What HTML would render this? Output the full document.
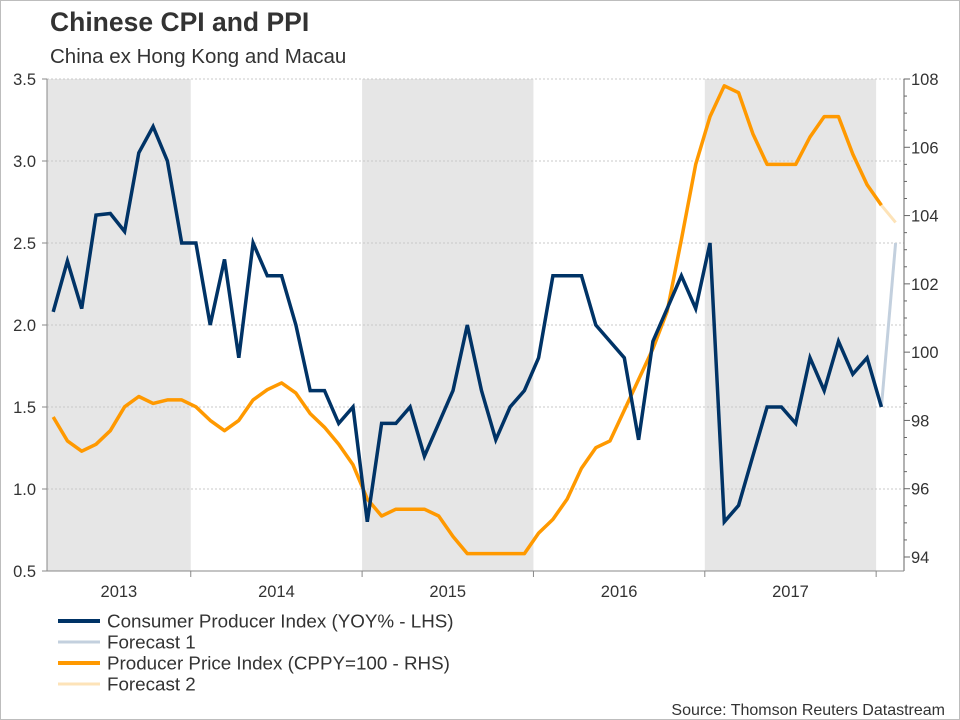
<!DOCTYPE html>
<html><head><meta charset="utf-8"><style>
body{margin:0;background:#fff;}
svg{display:block;font-family:"Liberation Sans",sans-serif;}
</style></head><body>
<svg id="chart" width="960" height="720" viewBox="0 0 960 720" xmlns="http://www.w3.org/2000/svg">
<rect x="0.5" y="0.5" width="959" height="719" fill="#fff" stroke="#bdbdbd"/>
<text x="50" y="31" font-size="26.5" font-weight="bold" fill="#333">Chinese CPI and PPI</text>
<text x="50" y="63" font-size="20.5" fill="#333">China ex Hong Kong and Macau</text>
<g id="bands"></g>
<g id="grid"></g>
<g id="series"></g>
<g id="axes"></g>
<g id="legend">
<line x1="58" y1="621" x2="100" y2="621" stroke="#003366" stroke-width="4"/>
<text x="107" y="627.5" font-size="18.8" fill="#333">Consumer Producer Index (YOY% - LHS)</text>
<line x1="58" y1="642" x2="100" y2="642" stroke="#c3d0de" stroke-width="3"/>
<text x="107" y="648.5" font-size="18.8" fill="#333">Forecast 1</text>
<line x1="58" y1="663" x2="100" y2="663" stroke="#ff9900" stroke-width="4"/>
<text x="107" y="669.5" font-size="18.8" fill="#333">Producer Price Index (CPPY=100 - RHS)</text>
<line x1="58" y1="684" x2="100" y2="684" stroke="#fde3b8" stroke-width="3"/>
<text x="107" y="690.5" font-size="18.8" fill="#333">Forecast 2</text>
</g>
<text x="945" y="715" font-size="16" fill="#333" text-anchor="end">Source: Thomson Reuters Datastream</text>
</svg>
<script>
// data (monthly, starting Mar 2013)
const startMonth = 2; // months after Jan 2013
const cpiValues = [2.08,2.39,2.1,2.67,2.68,2.57,3.05,3.21,3.0,2.5,
 2.5,2.0,2.4,1.8,2.5,2.3,2.3,2.0,1.6,1.6,1.4,1.5,
 0.8,1.4,1.4,1.5,1.2,1.4,1.6,2.0,1.6,1.3,1.5,1.6,
 1.8,2.3,2.3,2.3,2.0,1.9,1.8,1.3,1.9,2.1,2.3,2.1,
 2.5,0.8,0.9,1.2,1.5,1.5,1.4,1.8,1.6,1.9,1.7,1.8,
 1.5];
const cpiForecast = [1.5,2.5];
const ppiValues = [98.1,97.4,97.1,97.3,97.7,98.4,98.7,98.5,98.6,98.6,
 98.4,98.0,97.7,98.0,98.6,98.9,99.1,98.8,98.2,97.8,97.3,96.7,
 95.7,95.2,95.4,95.4,95.4,95.2,94.6,94.1,94.1,94.1,94.1,94.1,
 94.7,95.1,95.7,96.6,97.2,97.4,98.3,99.2,100.1,101.2,103.3,105.5,
 106.9,107.8,107.6,106.4,105.5,105.5,105.5,106.3,106.9,106.9,105.8,104.9,
 104.3];
const ppiForecast = [104.3,103.8];
const leftTicks = [0.5,1.0,1.5,2.0,2.5,3.0,3.5];
const rightTicks = [94,96,98,100,102,104,106,108];
const years = ["2013","2014","2015","2016","2017"];

const NS="http://www.w3.org/2000/svg";
const L=47,R=904,T=79,B=571;
const yearW=171.35, year0=19.4, monthW=yearW/12, monthOff=5.2;
function xm(m){return year0+monthOff+m*monthW;}
function yl(v){return B-(v-0.5)/3.0*(B-T);}
function yr(v){return 557-(v-94)*(557-T)/14;}
function el(tag,attrs,parent){const e=document.createElementNS(NS,tag);for(const k in attrs)e.setAttribute(k,attrs[k]);parent.appendChild(e);return e;}
const g=id=>document.getElementById(id);

years.forEach((y,i)=>{
  const x0=Math.max(L,year0+i*yearW), x1=year0+(i+1)*yearW;
  if(i%2===0){
    const r=el('rect',{x:x0,y:T,width:x1-x0,height:B-T,fill:'#e6e6e6'},g('bands'));
    
    
  }
  const t=el('text',{x:(x0+x1)/2,y:597,'font-size':16.5,fill:'#333','text-anchor':'middle'},g('axes'));
  t.textContent=y;
  
  
  if(i>0){
    const tk=el('line',{x1:year0+i*yearW,x2:year0+i*yearW,y1:B,y2:B+6,stroke:'#888'},g('axes'));
    
    
  }
});
const tkEnd=el('line',{x1:year0+5*yearW,x2:year0+5*yearW,y1:B,y2:B+6,stroke:'#888'},g('axes'));



leftTicks.forEach(v=>{
  const y=yl(v);
  const gl=el('line',{x1:L,x2:R,y1:y,y2:y,stroke:'#c8c8c8','stroke-dasharray':'2,2'},g('grid'));
  
  
  const tk=el('line',{x1:L-5,x2:L,y1:y,y2:y,stroke:'#888'},g('axes'));
  
  
  const t=el('text',{x:36,y:y+6,'font-size':16.5,fill:'#333','text-anchor':'end'},g('axes'));
  t.textContent=v.toFixed(1);
  
  
});
for(let v=94;v<=108.001;v+=0.5){
  const major=Math.abs(v-Math.round(v/2)*2)<0.01;
  const tk=el('line',{x1:R,x2:R+(major?6:3),y1:yr(v),y2:yr(v),stroke:'#666'},g('axes'));
  
  
}
rightTicks.forEach(v=>{
  const t=el('text',{x:911,y:yr(v)+6,'font-size':16.5,fill:'#333'},g('axes'));
  t.textContent=v;
  
  
});
const axL=el('line',{x1:L,x2:L,y1:T,y2:B,stroke:'#888'},g('axes'));


const axR=el('line',{x1:R,x2:R,y1:T,y2:B,stroke:'#666'},g('axes'));


const axB=el('line',{x1:L,x2:R,y1:B,y2:B,stroke:'#888'},g('axes'));



function pts(arr,start,f){return arr.map((v,i)=>xm(start+i).toFixed(1)+','+f(v).toFixed(1)).join(' ');}
const last=startMonth+cpiValues.length-1;
const f1=el('polyline',{points:pts(cpiForecast,last,yl),fill:'none',stroke:'#c3d0de','stroke-width':3},g('series'));


const f2=el('polyline',{points:pts(ppiForecast,last,yr),fill:'none',stroke:'#fde3b8','stroke-width':3},g('series'));


const ppi=el('polyline',{points:pts(ppiValues,startMonth,yr),fill:'none',stroke:'#ff9900','stroke-width':3.5,'stroke-linejoin':'round'},g('series'));


const cpi=el('polyline',{points:pts(cpiValues,startMonth,yl),fill:'none',stroke:'#003366','stroke-width':3.5,'stroke-linejoin':'miter'},g('series'));


</script>
</body></html>
